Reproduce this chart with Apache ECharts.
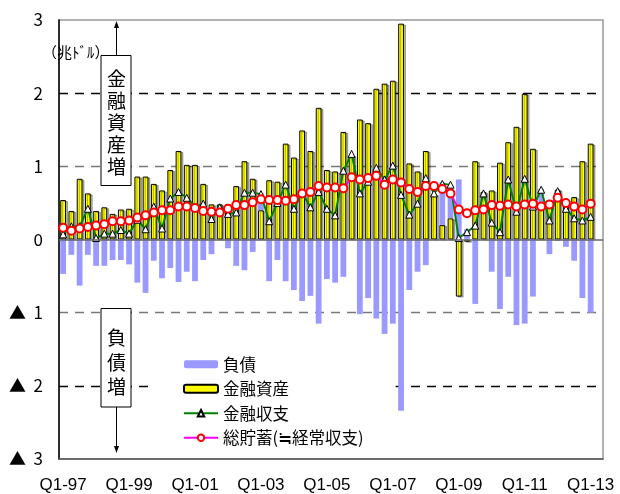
<!DOCTYPE html>
<html>
<head>
<meta charset="utf-8">
<script src="https://cdn.jsdelivr.net/npm/echarts@6/dist/echarts.min.js"></script>
<style>
html, body { margin: 0; padding: 0; background: #fff; }
#main { width: 620px; height: 494px; }
</style>
</head>
<body>
<div id="main"></div>
<script>
var quarters = [
  'Q1-97','Q2-97','Q3-97','Q4-97','Q1-98','Q2-98','Q3-98','Q4-98',
  'Q1-99','Q2-99','Q3-99','Q4-99','Q1-00','Q2-00','Q3-00','Q4-00',
  'Q1-01','Q2-01','Q3-01','Q4-01','Q1-02','Q2-02','Q3-02','Q4-02',
  'Q1-03','Q2-03','Q3-03','Q4-03','Q1-04','Q2-04','Q3-04','Q4-04',
  'Q1-05','Q2-05','Q3-05','Q4-05','Q1-06','Q2-06','Q3-06','Q4-06',
  'Q1-07','Q2-07','Q3-07','Q4-07','Q1-08','Q2-08','Q3-08','Q4-08',
  'Q1-09','Q2-09','Q3-09','Q4-09','Q1-10','Q2-10','Q3-10','Q4-10',
  'Q1-11','Q2-11','Q3-11','Q4-11','Q1-12','Q2-12','Q3-12','Q4-12',
  'Q1-13','Q2-13'
];

// 金融資産 (acquisition of financial assets)
var assets = [
  0.54, 0.39, 0.83, 0.63, 0.39, 0.44, 0.35, 0.41, 0.42, 0.86,
  0.86, 0.76, 0.67, 0.95, 1.21, 1.02, 1.02, 0.76, 0.48, 0.48,
  0.48, 0.73, 1.07, 0.83, 0.40, 0.81, 0.79, 1.31, 1.12, 1.49,
  1.21, 1.80, 0.95, 0.93, 1.47, 1.15, 1.64, 1.59, 2.06, 2.13,
  2.17, 2.95, 1.04, 0.93, 1.21, 0.62, 0.20, 0.29, -0.78, -0.03,
  1.07, 0.65, 0.67, 1.05, 1.33, 1.54, 1.99, 1.24, 0.44, 0.45,
  0.68, 0.50, 0.58, 1.07, 1.31, null
];

// 負債 (increase in liabilities shown below zero)
var debt = [
  -0.47, -0.21, -0.63, -0.21, -0.36, -0.36, -0.28, -0.28, -0.34, -0.59,
  -0.73, -0.29, -0.53, -0.39, -0.58, -0.44, -0.57, -0.28, -0.20, 0,
  -0.12, -0.36, -0.42, -0.17, 0.23, -0.57, -0.28, -0.57, -0.69, -0.84,
  -0.77, -1.15, -0.54, -0.59, -0.51, 0, -1.02, -0.80, -1.08, -1.29,
  -1.15, -2.34, -0.69, -0.44, -0.35, 0, 0.58, 0.45, 0.82, 0.14,
  -0.88, 0, -0.44, -0.95, -0.51, -1.17, -1.15, -0.78, 0.25, -0.20,
  -0.02, -0.10, -0.29, -0.80, -1.00, null
];

// 金融収支
var netLending = [
  0.07, 0.18, 0.18, 0.42, 0.02, 0.08, 0.08, 0.13, 0.08, 0.27,
  0.14, 0.45, 0.15, 0.56, 0.65, 0.57, 0.45, 0.49, 0.28, 0.44,
  0.35, 0.37, 0.64, 0.64, 0.62, 0.25, 0.50, 0.75, 0.42, 0.64,
  0.44, 0.65, 0.42, 0.33, 0.94, 1.17, 0.63, 0.79, 0.98, 0.82,
  1.01, 0.61, 0.34, 0.49, 0.84, 0.63, 0.76, 0.75, 0.02, 0.10,
  0.19, 0.63, 0.23, 0.10, 0.82, 0.38, 0.83, 0.45, 0.68, 0.26,
  0.66, 0.42, 0.29, 0.26, 0.31, null
];

// 総貯蓄(≒経常収支)
var saving = [
  0.16, 0.12, 0.15, 0.17, 0.19, 0.21, 0.25, 0.25, 0.26, 0.30,
  0.33, 0.37, 0.40, 0.40, 0.45, 0.45, 0.43, 0.39, 0.38, 0.37,
  0.42, 0.47, 0.47, 0.51, 0.55, 0.54, 0.54, 0.53, 0.55, 0.63,
  0.65, 0.73, 0.71, 0.71, 0.70, 0.85, 0.82, 0.84, 0.87, 0.75,
  0.82, 0.78, 0.69, 0.65, 0.73, 0.73, 0.69, 0.63, 0.41, 0.36,
  0.40, 0.41, 0.47, 0.46, 0.48, 0.45, 0.48, 0.49, 0.45, 0.48,
  0.57, 0.50, 0.45, 0.41, 0.49, null
];

var jp = '"Noto Sans CJK JP", sans-serif';
var num = '"Liberation Sans", Arial, sans-serif';

var chart = echarts.init(document.getElementById('main'));

var option = {
  animation: false,
  backgroundColor: '#fff',
  grid: {
    left: 59, right: 17, top: 20, bottom: 33,
    show: true, borderColor: '#999', borderWidth: 1.5
  },
  legend: {
    orient: 'vertical',
    left: 155,
    top: 348,
    padding: [8, 32, 8, 28],
    backgroundColor: '#fff',
    itemWidth: 34,
    itemHeight: 8,
    itemGap: 8,
    textStyle: { fontFamily: jp, fontSize: 16.5, color: '#000' },
    data: ['負債', '金融資産', '金融収支', '総貯蓄(≒経常収支)']
  },
  xAxis: {
    type: 'category',
    data: quarters,
    axisLine: { onZero: false, lineStyle: { color: '#555', width: 1.5 } },
    axisTick: { show: false },
    axisLabel: {
      interval: 7,
      margin: 18,
      fontFamily: num,
      fontSize: 17,
      color: '#000'
    },
    splitLine: { show: false }
  },
  yAxis: {
    type: 'value',
    min: -3,
    max: 3,
    interval: 1,
    axisLine: { show: true, lineStyle: { color: '#000', width: 1.5 } },
    axisTick: { show: false },
    axisLabel: {
      margin: 16,
      fontFamily: jp,
      fontSize: 17,
      color: '#000',
      formatter: function (v) { return v < 0 ? '▲  ' + (-v) : String(v); }
    },
    splitLine: {
      show: true,
      lineStyle: {
        type: [9, 7],
        width: 1.3,
        color: ['transparent', '#000', '#777', 'transparent', '#777', '#000', 'transparent']
      }
    }
  },
  series: [
    {
      name: '金融資産',
      type: 'bar',
      stack: 'flow',
      barWidth: '70%',
      data: assets,
      itemStyle: {
        color: '#ffff00',
        borderColor: '#000',
        borderWidth: 1,
        shadowColor: 'rgba(0,0,0,0.3)',
        shadowOffsetX: 2,
        shadowOffsetY: 1
      },
      markLine: {
        silent: true,
        symbol: 'none',
        label: { show: false },
        lineStyle: { color: '#666', type: 'solid', width: 1.5 },
        data: [{ yAxis: 0 }]
      }
    },
    {
      name: '負債',
      type: 'bar',
      stack: 'flow',
      data: debt,
      itemStyle: { color: '#9999ff' }
    },
    {
      name: '金融収支',
      type: 'line',
      data: netLending,
      showAllSymbol: true,
      symbol: 'triangle',
      symbolSize: 7,
      lineStyle: { color: '#008000', width: 2 },
      itemStyle: { color: '#fff', borderColor: '#000', borderWidth: 1 }
    },
    {
      name: '総貯蓄(≒経常収支)',
      type: 'line',
      data: saving,
      showAllSymbol: true,
      symbol: 'circle',
      symbolSize: 8,
      lineStyle: { color: '#ff00ff', width: 2 },
      itemStyle: { color: '#fff', borderColor: '#ff0000', borderWidth: 2 }
    }
  ],
  graphic: [
    {
      type: 'text', left: 42, top: 45, z: 100,
      style: { text: '（兆ﾄﾞﾙ）', font: '15px ' + jp, fill: '#000' }
    },
    // 金融資産増 box with arrow to the top
    {
      type: 'line', z: 100,
      shape: { x1: 116.5, y1: 55, x2: 116.5, y2: 26 },
      style: { stroke: '#000', lineWidth: 1 }
    },
    {
      type: 'polygon', z: 100,
      shape: { points: [[116.5, 21], [114, 28], [119, 28]] },
      style: { fill: '#000' }
    },
    {
      type: 'rect', z: 100,
      shape: { x: 101, y: 55.5, width: 30, height: 130 },
      style: { fill: '#fff', stroke: '#000', lineWidth: 1 }
    },
    {
      type: 'text', z: 101, x: 116.5, y: 122.5,
      style: {
        text: '金\n融\n資\n産\n増', font: '19px ' + jp, lineHeight: 22,
        align: 'center', verticalAlign: 'middle', fill: '#000'
      }
    },
    // 負債増 box with arrow to the bottom
    {
      type: 'line', z: 100,
      shape: { x1: 116.5, y1: 407, x2: 116.5, y2: 448 },
      style: { stroke: '#000', lineWidth: 1 }
    },
    {
      type: 'polygon', z: 100,
      shape: { points: [[116.5, 453], [114, 446], [119, 446]] },
      style: { fill: '#000' }
    },
    {
      type: 'rect', z: 100,
      shape: { x: 101, y: 308.5, width: 30, height: 98.5 },
      style: { fill: '#fff', stroke: '#000', lineWidth: 1 }
    },
    {
      type: 'text', z: 101, x: 116.5, y: 362.5,
      style: {
        text: '負\n債\n増', font: '19px ' + jp, lineHeight: 24.5,
        align: 'center', verticalAlign: 'middle', fill: '#000'
      }
    }
  ]
};

chart.setOption(option);
</script>
</body>
</html>
